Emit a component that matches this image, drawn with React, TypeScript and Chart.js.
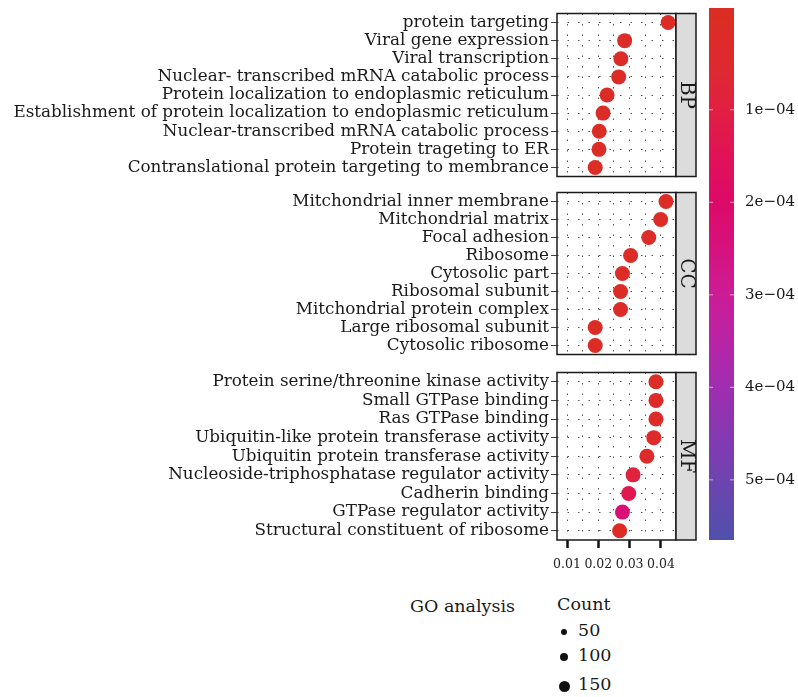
import React, { useEffect, useRef } from "react";
import { Chart, registerables } from "chart.js";
Chart.register(...registerables);

// ---------- data ----------
const bpTerms = [
  "protein targeting",
  "Viral gene expression",
  "Viral transcription",
  "Nuclear- transcribed mRNA catabolic process",
  "Protein localization to endoplasmic reticulum",
  "Establishment of protein localization to endoplasmic reticulum",
  "Nuclear-transcribed mRNA catabolic process",
  "Protein trageting to ER",
  "Contranslational protein targeting to membrance",
];
const bpRatio = [0.0423, 0.0284, 0.0272, 0.0265, 0.0228, 0.0215, 0.0203, 0.0202, 0.019];
const bpPadj = [0.05e-4, 0.2e-4, 0.2e-4, 0.15e-4, 0.2e-4, 0.15e-4, 0.1e-4, 0.1e-4, 0.1e-4];

const ccTerms = [
  "Mitchondrial inner membrane",
  "Mitchondrial matrix",
  "Focal adhesion",
  "Ribosome",
  "Cytosolic part",
  "Ribosomal subunit",
  "Mitchondrial protein complex",
  "Large ribosomal subunit",
  "Cytosolic ribosome",
];
const ccRatio = [0.0416, 0.0399, 0.0361, 0.0303, 0.0277, 0.0271, 0.0271, 0.019, 0.019];
const ccPadj = [0.1e-4, 0.1e-4, 0.15e-4, 0.15e-4, 0.1e-4, 0.1e-4, 0.15e-4, 0.1e-4, 0.1e-4];

const mfTerms = [
  "Protein serine/threonine kinase activity",
  "Small GTPase binding",
  "Ras GTPase binding",
  "Ubiquitin-like protein transferase activity",
  "Ubiquitin protein transferase activity",
  "Nucleoside-triphosphatase regulator activity",
  "Cadherin binding",
  "GTPase regulator activity",
  "Structural constituent of ribosome",
];
const mfRatio = [0.0384, 0.0384, 0.0384, 0.0377, 0.0355, 0.0311, 0.0297, 0.0277, 0.0268];
const mfPadj = [0.2e-4, 0.25e-4, 0.25e-4, 0.3e-4, 0.4e-4, 0.9e-4, 1.3e-4, 2.3e-4, 0.05e-4];

const xTickValues = [0.01, 0.02, 0.03, 0.04];
const xTickLabels = ["0.01", "0.02", "0.03", "0.04"];
const xGridValues = [0.01, 0.015, 0.02, 0.025, 0.03, 0.035, 0.04];

const colorTickValues = [1e-4, 2e-4, 3e-4, 4e-4, 5e-4];
const colorTickLabels = ["1e\u221204", "2e\u221204", "3e\u221204", "4e\u221204", "5e\u221204"];

const legendCounts = [50, 100, 150];

// gradient stops (value, colour)
const gradValues = [-0.1e-4, 0.5e-4, 1.0e-4, 1.5e-4, 2.0e-4, 2.5e-4, 3.0e-4, 3.5e-4, 4.0e-4, 4.5e-4, 5.0e-4, 5.65e-4];
const gradColors = ["#db2d22", "#dd2a2e", "#e02042", "#e11258", "#dd0a68", "#d6127e", "#cc1c96", "#b824a6", "#9f2eb0", "#8638b2", "#6e44b0", "#5050ab"];

const X_MIN = 0.0068;
const X_MAX = 0.0448;
const C_MIN = -0.1e-4;
const C_MAX = 5.65e-4;

const SERIF = '"DejaVu Serif", serif';

function hexToRgb(h: string) {
  const n = parseInt(h.slice(1), 16);
  return [(n >> 16) & 255, (n >> 8) & 255, n & 255];
}
function colorFor(v: number) {
  if (v <= gradValues[0]) return gradColors[0];
  for (let i = 1; i < gradValues.length; i++) {
    if (v <= gradValues[i]) {
      const t = (v - gradValues[i - 1]) / (gradValues[i] - gradValues[i - 1]);
      const a = hexToRgb(gradColors[i - 1]);
      const b = hexToRgb(gradColors[i]);
      const c = a.map((x, k) => Math.round(x + (b[k] - x) * t));
      return `rgb(${c[0]},${c[1]},${c[2]})`;
    }
  }
  return gradColors[gradColors.length - 1];
}

const zeroPad = (s: any) => {
  s.paddingTop = 0;
  s.paddingBottom = 0;
  s.paddingLeft = 0;
  s.paddingRight = 0;
};

const panelPlugin = (strip: string) => ({
  id: "panelFrame",
  afterDraw(chart: any) {
    const { ctx, chartArea: a } = chart;
    ctx.save();
    ctx.lineWidth = 1.5;
    ctx.strokeStyle = "#1a1a1a";
    ctx.strokeRect(a.left, a.top, a.right - a.left, a.bottom - a.top);
    const sw = 20;
    ctx.fillStyle = "#dcdcdc";
    ctx.fillRect(a.right, a.top, sw, a.bottom - a.top);
    ctx.strokeRect(a.right, a.top, sw, a.bottom - a.top);
    ctx.translate(a.right + sw / 2, (a.top + a.bottom) / 2);
    ctx.rotate(Math.PI / 2);
    ctx.fillStyle = "#1a1a1a";
    ctx.font = `20px ${SERIF}`;
    ctx.textAlign = "center";
    ctx.textBaseline = "middle";
    ctx.fillText(strip, 0, 0);
    ctx.restore();
  },
});

type PanelProps = {
  terms: string[];
  ratios: number[];
  padj: number[];
  strip: string;
  areaTop: number;
  areaH: number;
  showX: boolean;
};

function Panel({ terms, ratios, padj, strip, areaTop, areaH, showX }: PanelProps) {
  const ref = useRef<HTMLCanvasElement>(null);
  const padT = 2;
  const axisH = showX ? 40 : 0;
  const padB = showX ? 0 : 2;
  const width = 700;
  const height = padT + areaH + axisH + padB;
  useEffect(() => {
    const chart = new Chart(ref.current as HTMLCanvasElement, {
      type: "scatter",
      data: {
        datasets: [
          {
            data: terms.map((t, i) => ({ x: ratios[i], y: t })) as any,
            backgroundColor: padj.map(colorFor),
            borderWidth: 0,
            pointRadius: 7.5,
            pointHoverRadius: 7.5,
          },
        ],
      },
      options: {
        animation: false,
        responsive: false,
        events: [],
        layout: { padding: { left: 0, right: 24, top: padT, bottom: padB } },
        plugins: { legend: { display: false }, tooltip: { enabled: false } },
        scales: {
          x: {
            type: "linear",
            min: X_MIN,
            max: X_MAX,
            afterBuildTicks: (s: any) => {
              s.ticks = xGridValues.map((v) => ({ value: v }));
            },
            afterFit: (s: any) => {
              s.height = axisH;
              zeroPad(s);
            },
            ticks: {
              display: showX,
              font: { family: SERIF, size: 12.5 },
              color: "#222",
              padding: 9,
              maxRotation: 0,
              autoSkip: false,
              callback: (v: any) => {
                const i = xTickValues.findIndex((t) => Math.abs(t - v) < 1e-9);
                return i >= 0 ? xTickLabels[i] : "";
              },
            },
            grid: {
              color: "#555",
              lineWidth: 1,
              drawTicks: showX,
              tickLength: 8,
              tickWidth: 2.5,
              tickBorderDash: [],
              tickColor: (c: any) =>
                xTickValues.some((t) => Math.abs(t - c.tick.value) < 1e-9) ? "#111" : "rgba(0,0,0,0)",
            },
            border: { display: false, dash: [1.5, 9] },
          },
          y: {
            type: "category",
            labels: terms,
            offset: true,
            afterFit: (s: any) => {
              s.width = 557;
              zeroPad(s);
            },
            ticks: {
              font: { family: SERIF, size: 16.8 },
              color: "#1a1a1a",
              padding: 2,
              autoSkip: false,
            },
            grid: {
              color: "#555",
              lineWidth: 1,
              tickLength: 6,
              tickColor: "#444",
              tickBorderDash: [],
            },
            border: { display: false, dash: [1.5, 9] },
          },
        },
      } as any,
      plugins: [panelPlugin(strip)],
    });
    return () => chart.destroy();
  }, []);
  return (
    <canvas
      ref={ref}
      width={width}
      height={height}
      style={{ position: "absolute", left: 0, top: areaTop - padT, width, height }}
    />
  );
}

const colorbarPlugin = {
  id: "colorbar",
  beforeDatasetsDraw(chart: any) {
    const { ctx, chartArea: a } = chart;
    const s = chart.scales.y;
    const g = ctx.createLinearGradient(0, a.top, 0, a.bottom);
    gradValues.forEach((v, i) => {
      const p = (s.getPixelForValue(v) - a.top) / (a.bottom - a.top);
      g.addColorStop(Math.min(1, Math.max(0, p)), gradColors[i]);
    });
    ctx.save();
    ctx.fillStyle = g;
    ctx.fillRect(a.left, a.top, a.right - a.left, a.bottom - a.top);
    ctx.strokeStyle = "rgba(255,255,255,0.6)";
    ctx.lineWidth = 1;
    colorTickValues.forEach((v) => {
      const y = s.getPixelForValue(v);
      ctx.beginPath();
      ctx.moveTo(a.left, y);
      ctx.lineTo(a.left + 4, y);
      ctx.moveTo(a.right - 4, y);
      ctx.lineTo(a.right, y);
      ctx.stroke();
    });
    ctx.restore();
  },
};

function ColorBar() {
  const ref = useRef<HTMLCanvasElement>(null);
  useEffect(() => {
    const chart = new Chart(ref.current as HTMLCanvasElement, {
      type: "scatter",
      data: { datasets: [] },
      options: {
        animation: false,
        responsive: false,
        events: [],
        layout: { padding: { left: 9, right: 0, top: 8, bottom: 20 } },
        plugins: { legend: { display: false }, tooltip: { enabled: false } },
        scales: {
          x: { display: false, min: 0, max: 1 },
          y: {
            type: "linear",
            position: "right",
            reverse: true,
            min: C_MIN,
            max: C_MAX,
            afterBuildTicks: (s: any) => {
              s.ticks = colorTickValues.map((v) => ({ value: v }));
            },
            afterFit: (s: any) => {
              s.width = 64;
              zeroPad(s);
            },
            ticks: {
              font: { family: SERIF, size: 15 },
              color: "#1a1a1a",
              padding: 11,
              callback: (v: any) => {
                const i = colorTickValues.findIndex((t) => Math.abs(t - v) < 1e-12);
                return i >= 0 ? colorTickLabels[i] : "";
              },
            },
            grid: { display: false, drawTicks: false },
            border: { display: false },
          },
        },
      } as any,
      plugins: [colorbarPlugin],
    });
    return () => chart.destroy();
  }, []);
  return (
    <canvas
      ref={ref}
      width={98}
      height={560}
      style={{ position: "absolute", left: 700, top: 0, width: 98, height: 560 }}
    />
  );
}

export default function App() {
  const legendTop = [632, 657, 686];
  return (
    <div style={{ position: "absolute", left: 0, top: 0, width: 798, height: 697, background: "#fff", fontFamily: SERIF }}>
      <Panel terms={bpTerms} ratios={bpRatio} padj={bpPadj} strip="BP" areaTop={8} areaH={174} showX={false} />
      <Panel terms={ccTerms} ratios={ccRatio} padj={ccPadj} strip="CC" areaTop={187} areaH={173} showX={false} />
      <Panel terms={mfTerms} ratios={mfRatio} padj={mfPadj} strip="MF" areaTop={367} areaH={173} showX={true} />
      <ColorBar />
      <div style={{ position: "absolute", left: 410, top: 596, fontSize: 17.5, color: "#1a1a1a" }}>GO analysis</div>
      <div style={{ position: "absolute", left: 557, top: 594, fontSize: 17.5, color: "#1a1a1a" }}>Count</div>
      {legendCounts.map((c, i) => {
        const r = 5.5 * Math.sqrt(c / 150);
        return (
          <React.Fragment key={c}>
            <div
              style={{
                position: "absolute",
                left: 564 - r,
                top: legendTop[i] - r,
                width: 2 * r,
                height: 2 * r,
                borderRadius: "50%",
                background: "#111",
              }}
            />
            <div style={{ position: "absolute", left: 578, top: legendTop[i] - 12, fontSize: 17.5, color: "#1a1a1a" }}>{c}</div>
          </React.Fragment>
        );
      })}
    </div>
  );
}
